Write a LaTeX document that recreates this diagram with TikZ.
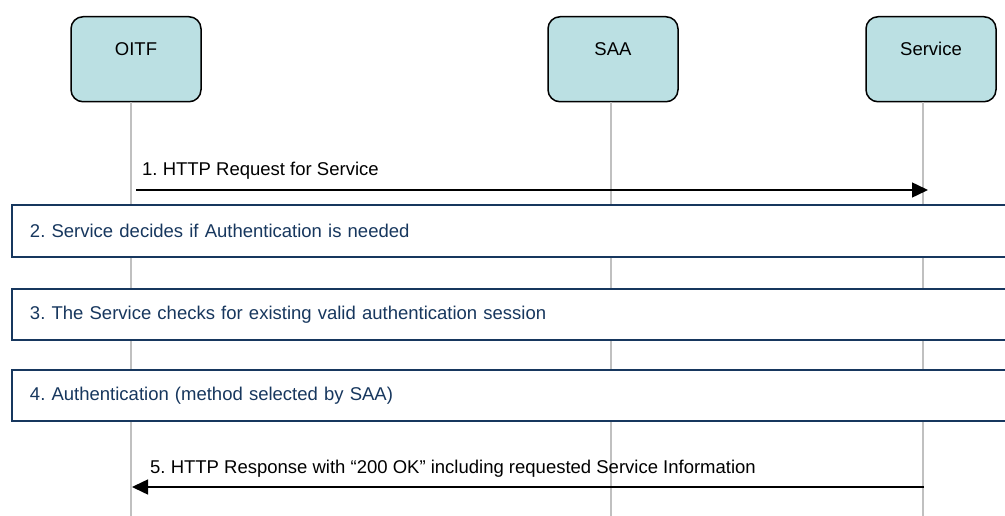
\documentclass[tikz,border=0pt]{standalone}
\usepackage{fontspec}
\setmainfont{Liberation Sans}
\usetikzlibrary{arrows.meta}
\frenchspacing

\definecolor{actorfill}{HTML}{BBE0E3}
\definecolor{stepblue}{HTML}{17375E}
\definecolor{lifegrey}{HTML}{C0C0C0}

\begin{document}
\begin{tikzpicture}[x=1pt,y=-1pt,
    every node/.style={font=\fontsize{18.5}{22}\selectfont},
    actor/.style={draw,
        rounded corners=12pt,
        fill=actorfill,
        line width=1.5pt,
        minimum width=130pt,
        minimum height=85pt,
        anchor=north},
    stepbox/.style={draw=stepblue,
        fill=white,
        text=stepblue,
        line width=2pt,
        minimum height=52pt,
        inner xsep=18pt,
        text width=984pt,
        align=left,
        anchor=north west},
    lifeline/.style={draw=lifegrey, line width=1.5pt},
    msg/.style={line width=1.5pt, -{Triangle[length=16pt,width=15pt]}},
    msglabel/.style={anchor=base west, inner sep=0pt}]

        \clip (0,0) rectangle (1005,516);

        % Participants
        \node [actor,
            label={[anchor=center,yshift=-33pt]90:OITF}] (oitf) at (136,16){};
        \node [actor,
            label={[anchor=center,yshift=-33pt]90:SAA}] (saa) at (613,16){};
        \node [actor,
            label={[anchor=center,yshift=-33pt]90:Service}] (service) at (931,16){};

        % Lifelines
        \coordinate (oitf-end) at (131,516);
        \coordinate (saa-end) at (611,516);
        \coordinate (service-end) at (923,516);
        \draw [lifeline] (oitf.south -| oitf-end) -- (oitf-end);
        \draw [lifeline] (saa.south -| saa-end) -- (saa-end);
        \draw [lifeline] (service.south -| service-end) -- (service-end);

        % Message 1
        \coordinate (req-start) at (136,190);
        \coordinate (req-end) at (928,190);
        \draw [msg] (req-start) -- (req-end);
        \node [msglabel] (req) at (142,176) {1. HTTP Request for Service};

        % Steps
        \node [stepbox] (decide) at (11,204) {2. Service decides if Authentication is needed};
        \node [stepbox,minimum height=51pt] (check) at (11,288) {3. The Service checks for existing valid authentication session};
        \node [stepbox,minimum height=51pt] (auth) at (11,369) {4. Authentication (method selected by SAA)};

        % Message 5
        \coordinate (resp-start) at (924,487);
        \coordinate (resp-end) at (132,487);
        \draw [msg] (resp-start) -- (resp-end);
        \node [msglabel] (resp) at (150,473) {5. HTTP Response with “200 OK” including requested Service Information};

\end{tikzpicture}
\end{document}
